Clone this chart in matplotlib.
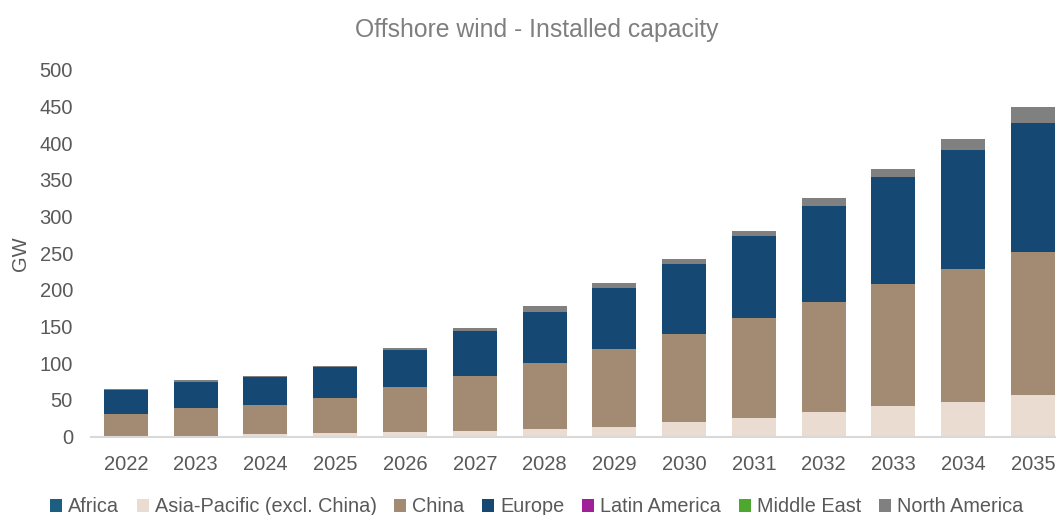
import matplotlib
matplotlib.use("Agg")
import matplotlib.pyplot as plt
import numpy as np

years = ["2022", "2023", "2024", "2025", "2026", "2027", "2028", "2029",
         "2030", "2031", "2032", "2033", "2034", "2035"]
africa = [0, 0, 0, 0, 0, 0, 0, 0, 0, 0, 0, 0, 0, 0]
asia_pacific = [0.5, 0.8, 3.0, 4.8, 5.7, 7.5, 10.2, 13.4, 19.3, 25.2, 33.0, 41.6, 47.5, 57.0]
china = [30.1, 37.7, 40.0, 47.7, 61.8, 75.0, 90.5, 105.6, 121.0, 136.0, 151.0, 166.0, 181.5, 194.7]
europe = [32.8, 36.3, 37.8, 41.9, 50.9, 61.8, 69.6, 83.2, 95.0, 111.9, 130.0, 146.8, 161.9, 175.6]
latin_america = [0, 0, 0, 0, 0, 0, 0, 0, 0, 0, 0, 0, 0, 0]
middle_east = [0, 0, 0, 0, 0, 0, 0, 0, 0, 0, 0, 0, 0, 0]
north_america = [1.0, 1.9, 1.3, 1.8, 1.9, 3.3, 7.7, 7.2, 6.4, 7.3, 11.0, 10.6, 15.0, 22.7]

series = [
    ("Africa", africa, "#1B5E82"),
    ("Asia-Pacific (excl. China)", asia_pacific, "#EADCD0"),
    ("China", china, "#A28A73"),
    ("Europe", europe, "#164874"),
    ("Latin America", latin_america, "#A0209A"),
    ("Middle East", middle_east, "#4EA72E"),
    ("North America", north_america, "#808080"),
]

plt.rcParams['font.family'] = ['Liberation Sans', 'DejaVu Sans']
fig = plt.figure(figsize=(10.56, 5.15), dpi=100)
ax = fig.add_axes([0.0862, 0.1524, 0.925, 0.7117])

x = np.arange(len(years))
bottom = np.zeros(len(years))
handles = []
for name, vals, col in series:
    v = np.array(vals, dtype=float)
    b = ax.bar(x, v, bottom=bottom, width=0.63, color=col, edgecolor="none",
               label=name)
    bottom += v
    handles.append(b)

ax.set_xlim(-0.5, len(years) - 0.5)
ax.set_ylim(0, 500)
ax.set_yticks(np.arange(0, 501, 50))
ax.set_xticks(x)
ax.set_xticklabels(years)
for s in ["top", "right", "left"]:
    ax.spines[s].set_visible(False)
ax.spines["bottom"].set_color("#D9D9D9")
ax.spines["bottom"].set_linewidth(1.5)
ax.tick_params(axis="both", length=0, labelsize=14.5, colors="#595959")
ax.tick_params(axis="x", pad=13)
ax.tick_params(axis="y", pad=13)
ax.set_ylabel("GW", fontsize=14.5, color="#595959", labelpad=7)

fig.text(0.508, 0.942, "Offshore wind - Installed capacity", ha="center",
         va="center", fontsize=17.8, color="#7F7F7F")

leg = fig.legend(handles=handles, labels=[s[0] for s in series],
                 loc="center", bbox_to_anchor=(0.508, 0.016), ncol=7,
                 frameon=False, fontsize=14.3, handlelength=0.6, handleheight=0.6,
                 handletextpad=0.3, columnspacing=0.9, labelcolor="#595959")

fig.savefig("out.png", dpi=100)
